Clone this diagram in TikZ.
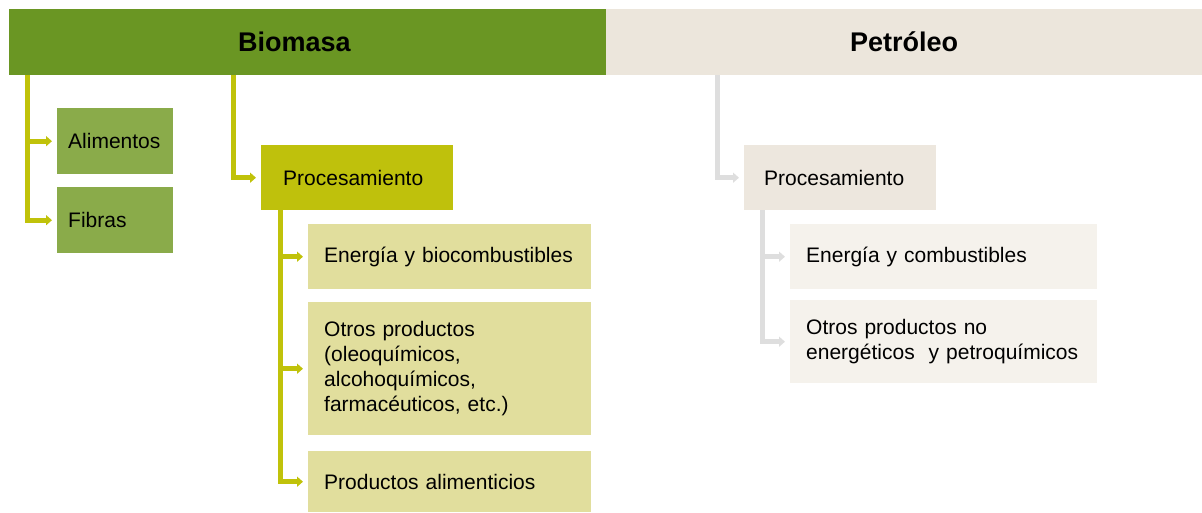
\documentclass[tikz,border=0pt]{standalone}
\usepackage{fontspec}
\setmainfont{Liberation Sans}
\usetikzlibrary{arrows.meta}
\definecolor{bioverde}{RGB}{106,150,35}
\definecolor{alimverde}{RGB}{138,171,74}
\definecolor{procamar}{RGB}{191,193,12}
\definecolor{subamar}{RGB}{225,222,157}
\definecolor{biolin}{RGB}{192,194,10}
\definecolor{petbeige}{RGB}{236,230,220}
\definecolor{pprocbeige}{RGB}{237,231,222}
\definecolor{psubbeige}{RGB}{245,242,236}
\definecolor{petlin}{RGB}{222,222,222}
\tikzset{>={Triangle[length=6pt,width=10pt]}}
\tikzset{
  caja/.style={anchor=north west, align=left, inner ysep=0pt, font=\fontsize{21}{25}\selectfont},
  cabeza/.style={anchor=north west, inner ysep=0pt, minimum height=66pt, font=\bfseries\fontsize{27}{30}\selectfont},
  enlace/.style={line width=5pt, ->, shorten >=5pt},
}

\begin{document}
\begin{tikzpicture}[x=1pt,y=-1pt]
\useasboundingbox (0,0) rectangle (1202,512);
% cabeceras
\node[cabeza, fill=bioverde, align=left, text width=139pt, inner xsep=229pt] (bio) at (9,9) {Biomasa};
\node[cabeza, fill=petbeige, align=center, text width=596pt, inner xsep=0pt] (pet) at (606,9) {Petróleo};
% biomasa
\node[caja, fill=alimverde, text width=94pt, inner xsep=11pt, minimum height=66pt] (alim) at (57,108) {Alimentos};
\node[caja, fill=alimverde, text width=94pt, inner xsep=11pt, minimum height=66pt] (fib) at (57,187) {Fibras};
\node[caja, fill=procamar, text width=148pt, inner xsep=22pt, minimum height=65pt] (proc) at (261,145) {Procesamiento};
\node[caja, fill=subamar, text width=251pt, inner xsep=16pt, minimum height=65pt] (ener) at (308,224) {Energía y biocombustibles};
\node[caja, fill=subamar, text width=251pt, inner xsep=16pt, minimum height=133pt] (otros) at (308,302) {Otros productos\\(oleoquímicos,\\alcohoquímicos,\\farmacéuticos, etc.)};
\node[caja, fill=subamar, text width=251pt, inner xsep=16pt, minimum height=61pt] (alimen) at (308,451) {Productos alimenticios};
% petroleo
\node[caja, fill=pprocbeige, text width=152pt, inner xsep=20pt, minimum height=65pt] (pproc) at (744,145) {Procesamiento};
\node[caja, fill=psubbeige, text width=275pt, inner xsep=16pt, minimum height=65pt] (pener) at (790,224) {Energía y combustibles};
\node[caja, fill=psubbeige, text width=275pt, inner xsep=16pt, minimum height=83pt] (potros) at (790,300) {Otros productos no\\energéticos~ y petroquímicos};

\coordinate (b1) at ([xshift=18pt]bio.south west);
\coordinate (b2) at ([xshift=224pt]bio.south west);
\coordinate (b3) at ([xshift=19pt]proc.south west);
\draw[enlace, biolin] (b1) |- (alim);
\draw[enlace, biolin] (b1) |- (fib);
\draw[enlace, biolin] (b2) |- (proc);
\draw[enlace, biolin] (b3) |- (ener);
\draw[enlace, biolin] (b3) |- (otros);
\draw[enlace, biolin] (b3) |- (alimen);

\coordinate (p1) at ([xshift=111pt]pet.south west);
\coordinate (p2) at ([xshift=18pt]pproc.south west);
\draw[enlace, petlin] (p1) |- (pproc);
\draw[enlace, petlin] (p2) |- (pener);
\draw[enlace, petlin] (p2) |- (potros);
\end{tikzpicture}
\end{document}
